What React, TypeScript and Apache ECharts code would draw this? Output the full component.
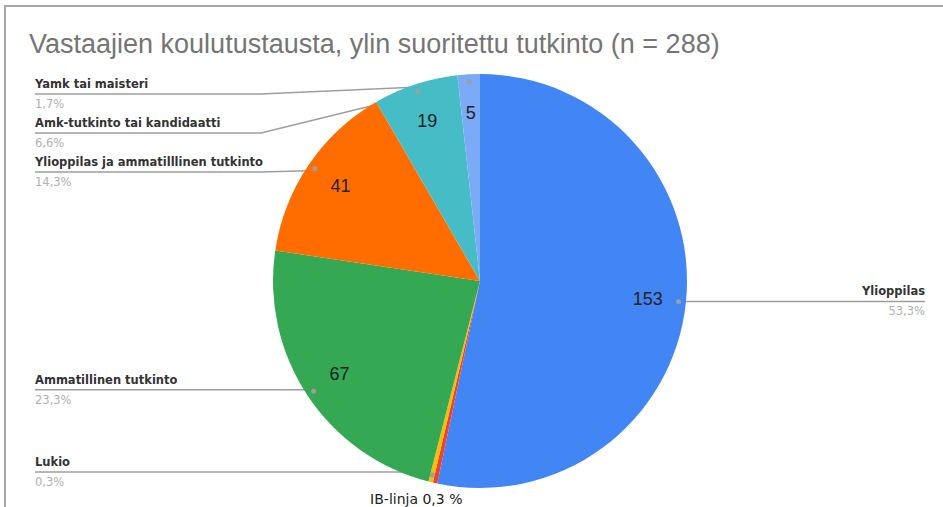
import React, { useEffect, useRef } from "react";
import * as echarts from "echarts";

const titleText = "Vastaajien koulutustausta, ylin suoritettu tutkinto (n = 288)";
const categories = [
  "Ylioppilas",
  "IB-linja",
  "Lukio",
  "Ammatillinen tutkinto",
  "Ylioppilas ja ammatilllinen tutkinto",
  "Amk-tutkinto tai kandidaatti",
  "Yamk tai maisteri",
];
const counts = [153, 1, 1, 67, 41, 19, 5];
const colors = ["#4285F4", "#EA4335", "#FBBC04", "#34A853", "#FF6D01", "#46BDC6", "#7BAAF7"];
const IB_INDEX = 1;

// layout (pixels)
const W = 943;
const H = 507;
const CX = 480;
const CY = 281;
const R = 207;
const ANCHOR_R = R * 0.95;
const LEFT_X = 35;
const RIGHT_X = 925;
const TOP_MIN = 94;
const GAP = 39;

const fmtPct = (p: number) => p.toFixed(1).replace(".", ",");

export default function App() {
  const ref = useRef<HTMLDivElement>(null);

  useEffect(() => {
    if (!ref.current) return;
    const chart = echarts.init(ref.current, null, { renderer: "svg" });

    const total = counts.reduce((a, b) => a + b, 0);
    const mids = counts.map((c, i) => {
      let before = 0;
      for (let j = 0; j < i; j++) before += counts[j];
      return ((before + c / 2) / total) * Math.PI * 2;
    });
    const anchors = mids.map((a) => [CX + ANCHOR_R * Math.sin(a), CY - ANCHOR_R * Math.cos(a)]);
    const lineY: number[] = new Array(counts.length).fill(0);
    (["left", "right"] as const).forEach((side) => {
      const idx = counts
        .map((_, i) => i)
        .filter((i) => i !== IB_INDEX && (side === "left" ? Math.sin(mids[i]) < 0 : Math.sin(mids[i]) >= 0))
        .sort((a, b) => anchors[a][1] - anchors[b][1]);
      let prev = -Infinity;
      idx.forEach((i) => {
        const y = Math.max(anchors[i][1], TOP_MIN, prev + GAP);
        lineY[i] = y;
        prev = y;
      });
    });

    const data = categories.map((name, i) => ({
      name,
      value: counts[i],
      itemStyle: { color: colors[i] },
      labelLine: { show: i !== IB_INDEX },
    }));
    const ghost = categories.map((name, i) => ({ name, value: counts[i] }));

    chart.setOption({
      animation: false,
      title: {
        text: titleText,
        left: 24,
        top: 25,
        textStyle: {
          fontFamily: "Liberation Sans, Arial, sans-serif",
          fontSize: 27,
          fontWeight: "normal",
          color: "#757575",
        },
      },
      graphic: [
        { type: "line", shape: { x1: 5, y1: 6, x2: W, y2: 6 }, style: { stroke: "#a8a8a8", lineWidth: 2 } },
        { type: "line", shape: { x1: 5, y1: 5, x2: 5, y2: H }, style: { stroke: "#a8a8a8", lineWidth: 2 } },
      ],
      series: [
        {
          type: "pie",
          center: [CX, CY],
          radius: [0, R],
          startAngle: 90,
          clockwise: true,
          avoidLabelOverlap: false,
          silent: true,
          itemStyle: { borderWidth: 0 },
          label: {
            show: true,
            position: "outside",
            formatter: (p: any) =>
              p.dataIndex === IB_INDEX
                ? `{ib|${p.name} ${fmtPct(p.percent)} %}`
                : `{name|${p.name}}\n{pct|${fmtPct(p.percent)}%}`,
            rich: {
              name: {
                fontFamily: "DejaVu Sans, sans-serif",
                fontSize: 11.5,
                fontWeight: "bold",
                color: "#333",
                lineHeight: 20,
              },
              pct: {
                fontFamily: "DejaVu Sans, sans-serif",
                fontSize: 11.5,
                color: "#b0b0b0",
                lineHeight: 20,
              },
              ib: {
                fontFamily: "DejaVu Sans, sans-serif",
                fontSize: 14,
                color: "#222",
                lineHeight: 18,
              },
            },
          },
          labelLine: { show: true, lineStyle: { color: "#9e9e9e", width: 1.5 } },
          labelLayout: (params: any) => {
            const i = params.dataIndex;
            if (i === IB_INDEX) {
              return {
                x: anchors[i][0] - 21,
                y: CY + R + 11,
                align: "center",
                verticalAlign: "middle",
              };
            }
            const left = Math.sin(mids[i]) < 0;
            const y = lineY[i];
            const elbowX = left ? CX - R - 12 : CX + R + 12;
            const farX = left ? LEFT_X : RIGHT_X;
            return {
              x: farX,
              y,
              align: left ? "left" : "right",
              verticalAlign: "middle",
              labelLinePoints: [
                [anchors[i][0], anchors[i][1]],
                [elbowX, y],
                [farX, y],
              ],
            };
          },
          data,
        },
        {
          type: "pie",
          center: [CX, CY],
          radius: [R * 0.6, R],
          startAngle: 90,
          clockwise: true,
          silent: true,
          z: 4,
          itemStyle: { color: "rgba(0,0,0,0)", borderWidth: 0 },
          label: {
            show: true,
            position: "inside",
            formatter: (p: any) => (p.value >= 2 ? String(p.value) : ""),
            fontFamily: "Liberation Sans, Arial, sans-serif",
            fontSize: 18,
            color: "#222",
          },
          labelLine: { show: false },
          data: ghost,
        },
        {
          type: "pie",
          center: [CX, CY],
          radius: [R * 0.9, R],
          startAngle: 90,
          clockwise: true,
          silent: true,
          z: 6,
          itemStyle: { color: "rgba(0,0,0,0)", borderWidth: 0 },
          label: {
            show: true,
            position: "inside",
            formatter: (p: any) => (p.dataIndex === IB_INDEX ? "" : "{dot| }"),
            rich: {
              dot: {
                width: 5,
                height: 5,
                lineHeight: 5,
                fontSize: 1,
                backgroundColor: "#9e9e9e",
                borderRadius: 2.5,
              },
            },
          },
          labelLine: { show: false },
          data: ghost,
        },
      ],
    });

    return () => chart.dispose();
  }, []);

  return (
    <div
      ref={ref}
      style={{ position: "fixed", left: 0, top: 0, width: W, height: H, background: "#fff" }}
    />
  );
}
